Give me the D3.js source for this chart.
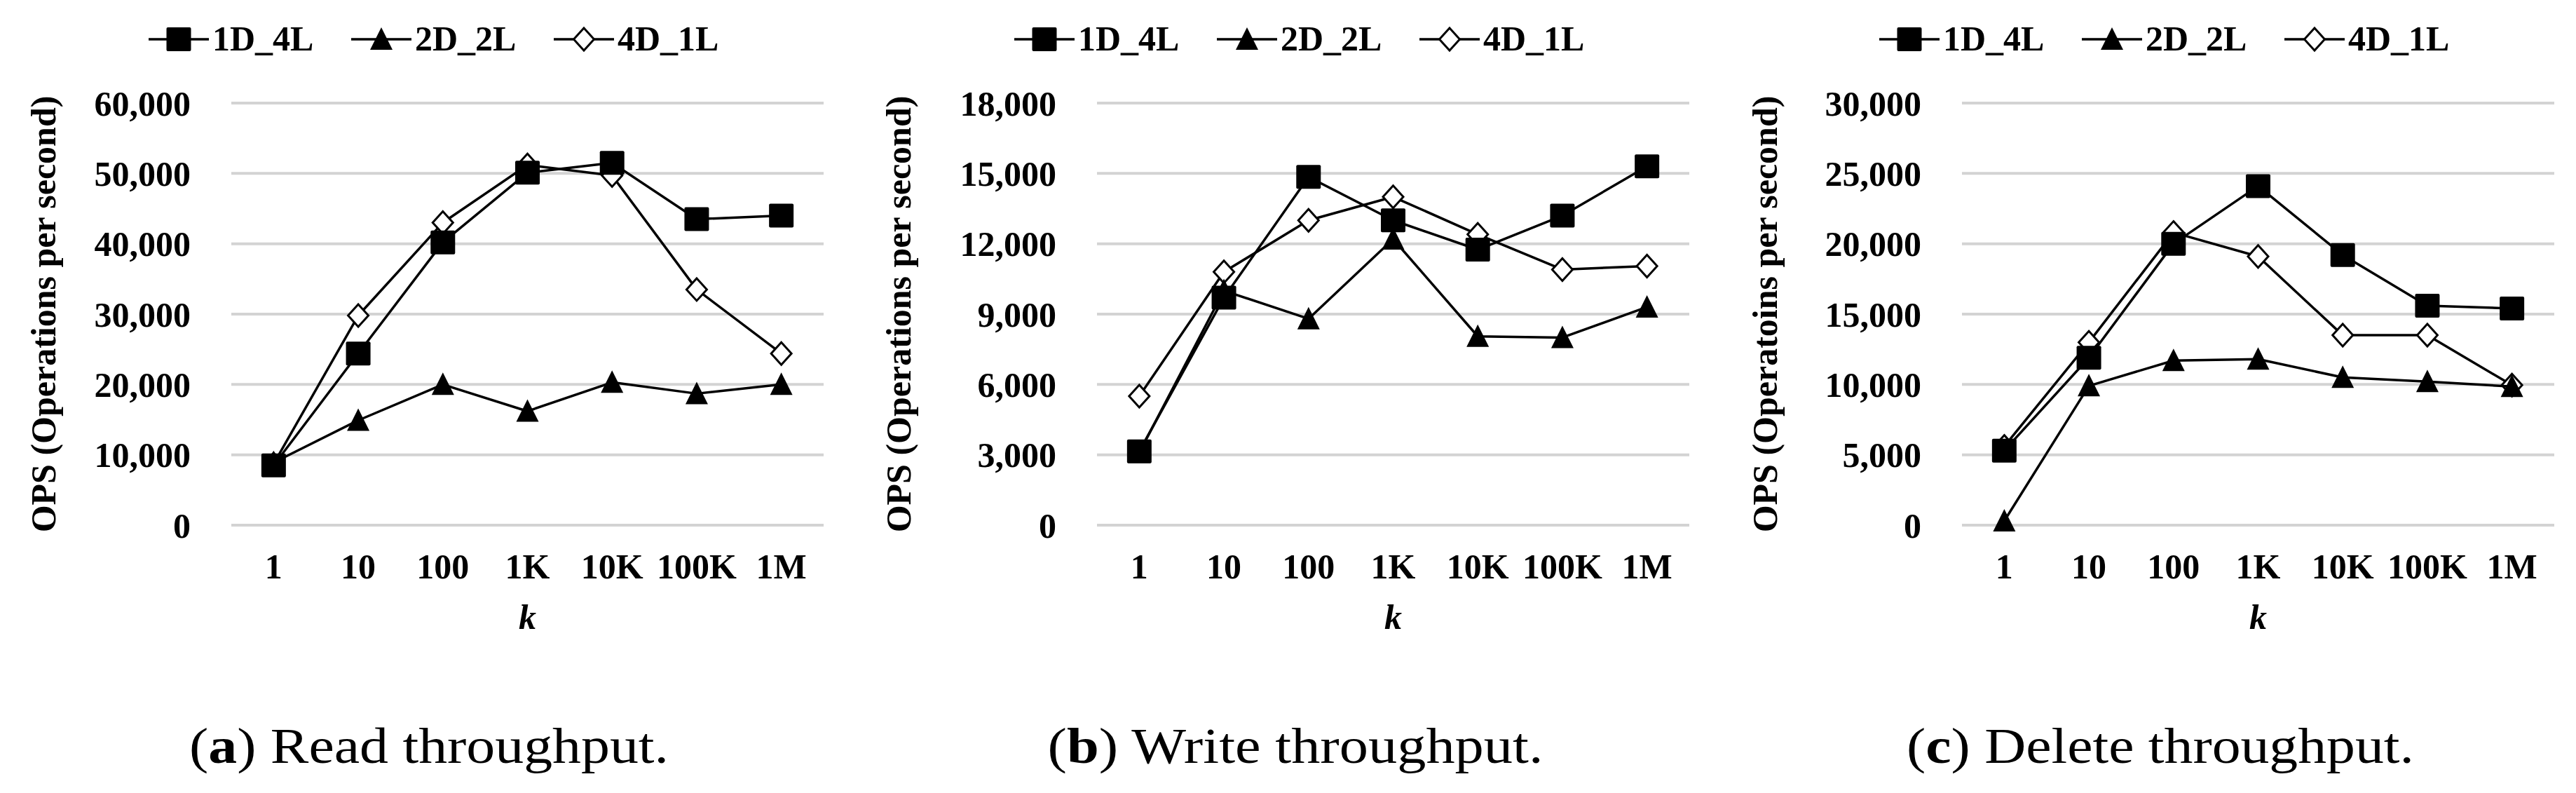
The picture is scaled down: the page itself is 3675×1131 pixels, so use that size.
<!DOCTYPE html>
<html>
<head>
<meta charset="utf-8">
<script src="https://cdn.jsdelivr.net/npm/d3@7"></script>
<style>
  html, body { margin: 0; padding: 0; background: #fff; }
  svg { display: block; }
</style>
</head>
<body>
<svg id="chart" width="3675" height="1131"></svg>
<script>
// ---------- data ----------
const categories = ["1", "10", "100", "1K", "10K", "100K", "1M"];
const seriesNames = ["1D_4L", "2D_2L", "4D_1L"];

const read_1D_4L = [8500, 24400, 40200, 50100, 51500, 43500, 44000];
const read_2D_2L = [8900, 14900, 20000, 16200, 20300, 18700, 20000];
const read_4D_1L = [8700, 29800, 43000, 51200, 49700, 33500, 24400];

const write_1D_4L = [3150, 9700, 14850, 13000, 11750, 13200, 15300];
const write_2D_2L = [3100, 10000, 8800, 12200, 8050, 8000, 9300];
const write_4D_1L = [5500, 10800, 13000, 14000, 12400, 10900, 11050];

const delete_1D_4L = [5300, 11900, 20000, 24100, 19200, 15600, 15400];
const delete_2D_2L = [300, 9900, 11700, 11800, 10500, 10200, 9850];
const delete_4D_1L = [5600, 13000, 20800, 19100, 13500, 13500, 9950];

const readTicks = [0, 10000, 20000, 30000, 40000, 50000, 60000];
const writeTicks = [0, 3000, 6000, 9000, 12000, 15000, 18000];
const deleteTicks = [0, 5000, 10000, 15000, 20000, 25000, 30000];

const yTitles = ["OPS (Operations per second)", "OPS (Operations per second)", "OPS (Operatoins per second)"];
const captionLetters = ["a", "b", "c"];
const captionTexts = [" Read throughput.", " Write throughput.", " Delete throughput."];
const xTitle = "k";

// ---------- layout ----------
const panels = [
  { series: [read_1D_4L, read_2D_2L, read_4D_1L], ticks: readTicks, left: 330, titleOff: 268, capCx: 612, capW: 684 },
  { series: [write_1D_4L, write_2D_2L, write_4D_1L], ticks: writeTicks, left: 1565, titleOff: 283, capCx: 1848, capW: 707 },
  { series: [delete_1D_4L, delete_2D_2L, delete_4D_1L], ticks: deleteTicks, left: 2799, titleOff: 281, capCx: 3082, capW: 724 }
];
const plotW = 845, plotTop = 147, plotBottom = 749;
const FONT = "'Liberation Serif', 'Times New Roman', serif";

const svg = d3.select("#chart");

function drawMarker(g, type, x, y) {
  if (type === 0) {
    g.append("rect").attr("x", x - 17.5).attr("y", y - 17).attr("width", 35).attr("height", 34)
      .attr("rx", 2).attr("fill", "#000");
  } else if (type === 1) {
    g.append("path").attr("d", `M${x},${y - 17}L${x + 16},${y + 15}L${x - 16},${y + 15}Z`).attr("fill", "#000");
  } else {
    g.append("path").attr("d", `M${x},${y - 16}L${x + 14.5},${y}L${x},${y + 16}L${x - 14.5},${y}Z`)
      .attr("fill", "#fff").attr("stroke", "#000").attr("stroke-width", 3);
  }
}

panels.forEach((p, pi) => {
  const g = svg.append("g").attr("transform", `translate(${p.left},0)`);
  const x = d3.scaleBand().domain(categories).range([0, plotW]);
  const xc = c => x(c) + x.bandwidth() / 2;
  const y = d3.scaleLinear().domain([0, d3.max(p.ticks)]).range([plotBottom, plotTop]);

  // gridlines
  g.append("g").selectAll("line").data(p.ticks).join("line")
    .attr("x1", 0).attr("x2", plotW)
    .attr("y1", d => y(d)).attr("y2", d => y(d))
    .attr("stroke", "#d3d3d3").attr("stroke-width", 4);

  // y axis labels
  const yAxis = d3.axisLeft(y).tickValues(p.ticks).tickFormat(d3.format(",")).tickSize(0).tickPadding(58);
  const ya = g.append("g").call(yAxis);
  ya.select(".domain").remove();
  ya.selectAll("text").attr("font-family", FONT).attr("font-weight", "bold")
    .attr("font-size", 50).attr("fill", "#000").attr("dy", "0.34em");

  // x axis labels
  const xAxis = d3.axisBottom(x).tickSize(0).tickPadding(0);
  const xa = g.append("g").attr("transform", `translate(0,825)`).call(xAxis);
  xa.select(".domain").remove();
  xa.selectAll("text").attr("font-family", FONT).attr("font-weight", "bold")
    .attr("font-size", 50).attr("fill", "#000").attr("dy", 0).attr("y", 0);

  // x title
  g.append("text").attr("x", plotW / 2).attr("y", 897).attr("text-anchor", "middle")
    .attr("font-family", FONT).attr("font-weight", "bold").attr("font-style", "italic")
    .attr("font-size", 50).text(xTitle);

  // y title
  g.append("text")
    .attr("transform", `translate(${-p.titleOff},${(plotTop + plotBottom) / 2}) rotate(-90)`)
    .attr("text-anchor", "middle").attr("dy", "0.33em")
    .attr("font-family", FONT).attr("font-weight", "bold").attr("font-size", 50)
    .text(yTitles[pi]);

  // series (drawn in reverse so 1D_4L is on top)
  const line = d3.line().x((d, i) => xc(categories[i])).y(d => y(d));
  [2, 1, 0].forEach(si => {
    const vals = p.series[si];
    const sg = g.append("g");
    sg.append("path").attr("d", line(vals)).attr("fill", "none")
      .attr("stroke", "#000").attr("stroke-width", 3.5).attr("stroke-linejoin", "round");
    vals.forEach((v, i) => drawMarker(sg, si, xc(categories[i]), y(v)));
  });

  // legend
  const lg = g.append("g").attr("transform", `translate(-118,0)`);
  seriesNames.forEach((name, si) => {
    const ox = si * 289;
    lg.append("line").attr("x1", ox).attr("x2", ox + 86).attr("y1", 56).attr("y2", 56)
      .attr("stroke", "#000").attr("stroke-width", 3.5);
    drawMarker(lg, si, ox + 43, 56);
    lg.append("text").attr("x", ox + 91).attr("y", 72)
      .attr("font-family", FONT).attr("font-weight", "bold").attr("font-size", 50).text(name);
  });

  // caption
  const cap = svg.append("text")
    .attr("x", p.capCx - p.capW / 2).attr("y", 1088)
    .attr("font-family", FONT).attr("font-size", 71)
    .attr("textLength", p.capW).attr("lengthAdjust", "spacingAndGlyphs");
  cap.append("tspan").text("(");
  cap.append("tspan").attr("font-weight", "bold").text(captionLetters[pi]);
  cap.append("tspan").text(")" + captionTexts[pi]);
});
</script>
</body>
</html>
